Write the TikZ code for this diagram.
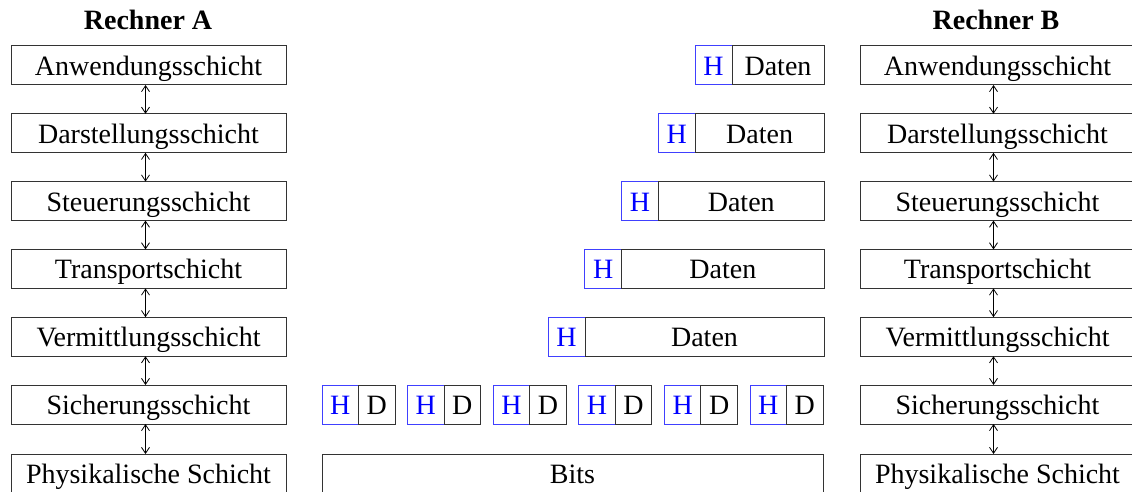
\documentclass[tikz,border=0pt]{standalone}
\usepackage{fontspec}
\setmainfont{Liberation Serif}
\usetikzlibrary{arrows.meta}
\begin{document}
\begin{tikzpicture}[x=1pt,y=-1pt,
  txt/.style={font=\fontsize{28}{31}\selectfont, text height=24pt, text depth=4pt},
  layer/.style={txt, draw=black!80, line width=1pt, minimum width=275pt, minimum height=39pt,
    inner sep=0pt, outer sep=0pt, anchor=north west},
  hbox/.style={txt, draw=blue!75, text=blue, line width=1pt, minimum width=37pt, minimum height=39pt,
    inner sep=0pt, outer sep=0pt, anchor=north west},
  dbox/.style={txt, draw=black!80, line width=1pt, minimum height=39pt,
    inner sep=0pt, outer sep=0pt, anchor=north west},
  title/.style={font=\fontsize{28}{31}\selectfont\bfseries},
  arr/.style={line width=0.8pt, {Straight Barb[length=6pt,width=8pt]}-{Straight Barb[length=6pt,width=8pt]}}
]
\useasboundingbox (0,0) rectangle (1132,492);

\node[title] (ta) at (148,20) {Rechner A};
\node[title] (tb) at (996,20) {Rechner B};

% Left stack
\node[layer] (a1) at (11,46)    {Anwendungsschicht};
\node[layer] (a2) at (11,113.8) {Darstellungsschicht};
\node[layer] (a3) at (11,181.6) {Steuerungsschicht};
\node[layer] (a4) at (11,249.4) {Transportschicht};
\node[layer] (a5) at (11,317.2) {Vermittlungsschicht};
\node[layer] (a6) at (11,385)   {Sicherungsschicht};
\node[layer] (a7) at (11,454) {Physikalische Schicht};

% Right stack
\node[layer] (b1) at (860,46)    {Anwendungsschicht};
\node[layer] (b2) at (860,113.8) {Darstellungsschicht};
\node[layer] (b3) at (860,181.6) {Steuerungsschicht};
\node[layer] (b4) at (860,249.4) {Transportschicht};
\node[layer] (b5) at (860,317.2) {Vermittlungsschicht};
\node[layer] (b6) at (860,385)   {Sicherungsschicht};
\node[layer] (b7) at (860,454) {Physikalische Schicht};

\foreach \i/\j in {1/2,2/3,3/4,4/5,5/6,6/7}{
  \draw[arr] ([xshift=-3pt]a\i.south) -- ([xshift=-3pt]a\j.north);
  \draw[arr] ([xshift=-4pt]b\i.south) -- ([xshift=-4pt]b\j.north);
}

% Middle: headers + data
\node[hbox] (h1) at (695,46)    {H};
\node[dbox, minimum width=92pt]  (d1) at (h1.north east) {Daten};
\node[hbox] (h2) at (658.25,113.8) {H};
\node[dbox, minimum width=128.75pt] (d2) at (h2.north east) {Daten};
\node[hbox] (h3) at (621.5,181.6) {H};
\node[dbox, minimum width=165.5pt] (d3) at (h3.north east) {Daten};
\node[hbox] (h4) at (584.75,249.4) {H};
\node[dbox, minimum width=202.25pt] (d4) at (h4.north east) {Daten};
\node[hbox] (h5) at (548,317.2) {H};
\node[dbox, minimum width=239pt] (d5) at (h5.north east) {Daten};

\foreach \k in {0,...,5}{
  \node[hbox, minimum width=36.5pt] (ph\k) at ({322+85.6*\k},385) {H};
  \node[dbox, minimum width=36.5pt] (pd\k) at (ph\k.north east) {D};
}

\node[dbox, minimum width=501pt] (bits) at (322,454) {Bits};
\end{tikzpicture}
\end{document}
